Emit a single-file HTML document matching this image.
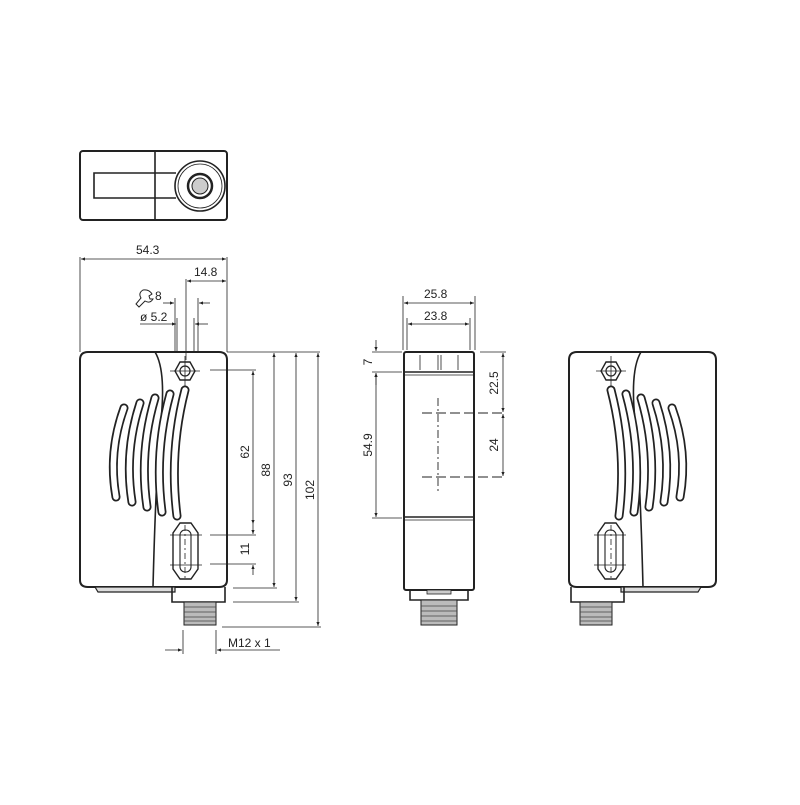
<!DOCTYPE html>
<html><head><meta charset="utf-8"><style>
body{margin:0;background:#fff}
svg text{font-family:"Liberation Sans",sans-serif;font-size:12px;fill:#222}
</style></head><body>
<svg width="800" height="800" viewBox="0 0 800 800" xmlns="http://www.w3.org/2000/svg">
<defs>
<marker id="a" viewBox="0 0 10 10" refX="10" refY="5" markerWidth="7" markerHeight="5" orient="auto-start-reverse"><path d="M0,1 L10,5 L0,9z" fill="#222"/></marker>
<g id="body" fill="none" stroke="#222">
  <path d="M88,352 H219 Q227,352 227,360 V580 Q227,587 219,587 H88 Q80,587 80,580 V360 Q80,352 88,352z" stroke-width="2"/>
  <path d="M155,352 Q166,370 161,420 Q156,470 153,587" stroke-width="1.6"/>
  <path d="M95,587 H175 V592 H98z" stroke-width="1.2" fill="#ddd"/>
  <path d="M172,587 V602 H225 V587" stroke-width="1.6"/>
  <rect x="184" y="602" width="32" height="23" fill="#bbb" stroke-width="1"/>
  <g stroke="#444" stroke-width="0.8">
    <line x1="184" y1="607" x2="216" y2="607"/><line x1="184" y1="612" x2="216" y2="612"/><line x1="184" y1="617" x2="216" y2="617"/><line x1="184" y1="621" x2="216" y2="621"/>
  </g>
  <path d="M180,362 L190,362 L195,371 L190,380 L180,380 L175,371z" stroke-width="1.4"/>
  <circle cx="185" cy="371" r="5" stroke-width="1.2"/>
  <line x1="170" y1="371" x2="200" y2="371" stroke-width="0.8"/><line x1="185" y1="356" x2="185" y2="386" stroke-width="0.8"/>
  <path d="M180,523 H191 L198,533 V569 L191,579 H180 L173,569 V533z" stroke-width="1.4"/>
  <rect x="180" y="530" width="11" height="42" rx="5" stroke-width="1.1"/>
  <line x1="170" y1="535" x2="202" y2="535" stroke-width="0.8"/><line x1="170" y1="565" x2="202" y2="565" stroke-width="0.8"/>
  <line x1="185" y1="525" x2="185" y2="578" stroke-width="0.8" stroke-dasharray="6 3 2 3"/>
  <g stroke-width="9" stroke-linecap="round">
    <path d="M124,408 Q108,452 116,497"/><path d="M140,403 Q124,452 132,502"/><path d="M155,398 Q139,452 147,507"/><path d="M170,394 Q154,452 162,512"/><path d="M185,390 Q169,452 177,516"/>
  </g>
  <g stroke="#fff" stroke-width="5.5" stroke-linecap="round">
    <path d="M124,408 Q108,452 116,497"/><path d="M140,403 Q124,452 132,502"/><path d="M155,398 Q139,452 147,507"/><path d="M170,394 Q154,452 162,512"/><path d="M185,390 Q169,452 177,516"/>
  </g>
</g>
</defs>

<!-- top view -->
<g fill="none" stroke="#222">
  <rect x="80" y="151" width="147" height="69" rx="3" stroke-width="2"/>
  <line x1="155" y1="151" x2="155" y2="220" stroke-width="1.6"/>
  <path d="M176,173 H94 V198 H176" stroke-width="1.6"/>
  <circle cx="200" cy="186" r="25" stroke-width="1.6"/>
  <circle cx="200" cy="186" r="22" stroke-width="0.8"/>
  <circle cx="200" cy="186" r="12" stroke-width="2.5"/>
  <circle cx="200" cy="186" r="8" stroke-width="1" fill="#ccc"/>
</g>

<use href="#body"/>
<use href="#body" transform="translate(796,0) scale(-1,1)"/>

<!-- left dims -->
<g stroke="#222" stroke-width="0.8" fill="none">
  <line x1="80" y1="257" x2="80" y2="352"/><line x1="227" y1="257" x2="227" y2="352"/>
  <line x1="81" y1="259" x2="226" y2="259" marker-start="url(#a)" marker-end="url(#a)"/>
  <line x1="186" y1="279" x2="186" y2="360"/>
  <line x1="187" y1="281" x2="226" y2="281" marker-start="url(#a)" marker-end="url(#a)"/>
  <line x1="175" y1="298" x2="175" y2="352"/><line x1="198" y1="298" x2="198" y2="352"/>
  <line x1="163" y1="303" x2="174" y2="303" marker-end="url(#a)"/><line x1="210" y1="303" x2="199" y2="303" marker-end="url(#a)"/>
  <line x1="177" y1="318" x2="177" y2="352"/><line x1="194" y1="318" x2="194" y2="352"/>
  <line x1="140" y1="324" x2="176" y2="324" marker-end="url(#a)"/><line x1="208" y1="324" x2="195" y2="324" marker-end="url(#a)"/>
  <line x1="227" y1="352" x2="320" y2="352"/>
  <line x1="210" y1="370" x2="256" y2="370"/>
  <line x1="253" y1="371" x2="253" y2="524" marker-start="url(#a)" marker-end="url(#a)"/>
  <line x1="210" y1="535" x2="256" y2="535"/><line x1="210" y1="564" x2="256" y2="564"/>
  <line x1="253" y1="524" x2="253" y2="534" marker-end="url(#a)"/><line x1="253" y1="575" x2="253" y2="565" marker-end="url(#a)"/>
  <line x1="233" y1="588" x2="277" y2="588"/>
  <line x1="274" y1="353" x2="274" y2="587" marker-start="url(#a)" marker-end="url(#a)"/>
  <line x1="233" y1="602" x2="299" y2="602"/>
  <line x1="296" y1="353" x2="296" y2="601" marker-start="url(#a)" marker-end="url(#a)"/>
  <line x1="222" y1="627" x2="321" y2="627"/>
  <line x1="318" y1="353" x2="318" y2="626" marker-start="url(#a)" marker-end="url(#a)"/>
  <line x1="183" y1="630" x2="183" y2="654"/><line x1="216" y1="630" x2="216" y2="654"/>
  <line x1="165" y1="650" x2="182" y2="650" marker-end="url(#a)"/><line x1="280" y1="650" x2="217" y2="650" marker-end="url(#a)"/>
  <path d="M143,290 q-5,3 -2,8 l-5,6 l3,3 l6,-6 q5,3 8,-2 l-3,0 l-1,-3 l3,-2 q-3,-5 -9,-4z" stroke-width="1"/>
</g>
<text x="136" y="254">54.3</text>
<text x="194" y="276">14.8</text>
<text x="155" y="300" font-size="10">8</text>
<text x="140" y="321">ø 5.2</text>
<text x="228" y="647">M12 x 1</text>
<text transform="translate(249,452) rotate(-90)" text-anchor="middle">62</text>
<text transform="translate(270,470) rotate(-90)" text-anchor="middle">88</text>
<text transform="translate(292,480) rotate(-90)" text-anchor="middle">93</text>
<text transform="translate(314,490) rotate(-90)" text-anchor="middle">102</text>
<text transform="translate(249,549) rotate(-90)" text-anchor="middle">11</text>

<!-- middle view -->
<g fill="none" stroke="#222">
  <rect x="404" y="352" width="70" height="238" rx="2" stroke-width="2"/>
  <line x1="404" y1="372" x2="474" y2="372" stroke-width="1.4"/>
  <line x1="404" y1="375" x2="474" y2="375" stroke-width="0.7"/>
  <line x1="404" y1="517" x2="474" y2="517" stroke-width="1.4"/>
  <line x1="404" y1="520" x2="474" y2="520" stroke-width="0.7"/>
  <line x1="420" y1="355" x2="420" y2="370" stroke-width="0.8"/><line x1="438" y1="355" x2="438" y2="370" stroke-width="0.8"/><line x1="441" y1="355" x2="441" y2="370" stroke-width="0.8"/><line x1="458" y1="355" x2="458" y2="370" stroke-width="0.8"/>
  <path d="M410,590 V600 H468 V590" stroke-width="1.6"/>
  <rect x="427" y="590" width="24" height="4" fill="#ccc" stroke-width="0.8"/>
  <rect x="421" y="600" width="36" height="25" fill="#bbb" stroke-width="1"/>
  <g stroke="#444" stroke-width="0.8"><line x1="421" y1="606" x2="457" y2="606"/><line x1="421" y1="611" x2="457" y2="611"/><line x1="421" y1="616" x2="457" y2="616"/><line x1="421" y1="621" x2="457" y2="621"/></g>
  <g stroke-width="0.9" stroke-dasharray="10 4">
    <line x1="422" y1="413" x2="506" y2="413"/><line x1="422" y1="477" x2="506" y2="477"/>
  </g>
  <line x1="438" y1="398" x2="438" y2="493" stroke-width="0.9" stroke-dasharray="8 3 2 3"/>
  <g stroke-width="0.8">
    <line x1="403" y1="296" x2="403" y2="350"/><line x1="475" y1="296" x2="475" y2="350"/>
    <line x1="404" y1="303" x2="474" y2="303" marker-start="url(#a)" marker-end="url(#a)"/>
    <line x1="407" y1="318" x2="407" y2="350"/><line x1="470" y1="318" x2="470" y2="350"/>
    <line x1="408" y1="324" x2="469" y2="324" marker-start="url(#a)" marker-end="url(#a)"/>
    <line x1="372" y1="352" x2="402" y2="352"/><line x1="372" y1="372" x2="402" y2="372"/><line x1="372" y1="518" x2="402" y2="518"/>
    <line x1="376" y1="340" x2="376" y2="351" marker-end="url(#a)"/><line x1="376" y1="385" x2="376" y2="373" marker-end="url(#a)"/>
    <line x1="376" y1="373" x2="376" y2="517" marker-start="url(#a)" marker-end="url(#a)"/>
    <line x1="480" y1="352" x2="506" y2="352"/>
    <line x1="503" y1="353" x2="503" y2="412" marker-start="url(#a)" marker-end="url(#a)"/>
    <line x1="503" y1="414" x2="503" y2="476" marker-start="url(#a)" marker-end="url(#a)"/>
  </g>
</g>
<text x="424" y="298">25.8</text>
<text x="424" y="320">23.8</text>
<text transform="translate(372,362) rotate(-90)" text-anchor="middle">7</text>
<text transform="translate(372,445) rotate(-90)" text-anchor="middle">54.9</text>
<text transform="translate(498,383) rotate(-90)" text-anchor="middle">22.5</text>
<text transform="translate(498,445) rotate(-90)" text-anchor="middle">24</text>
</svg>
</body></html>
